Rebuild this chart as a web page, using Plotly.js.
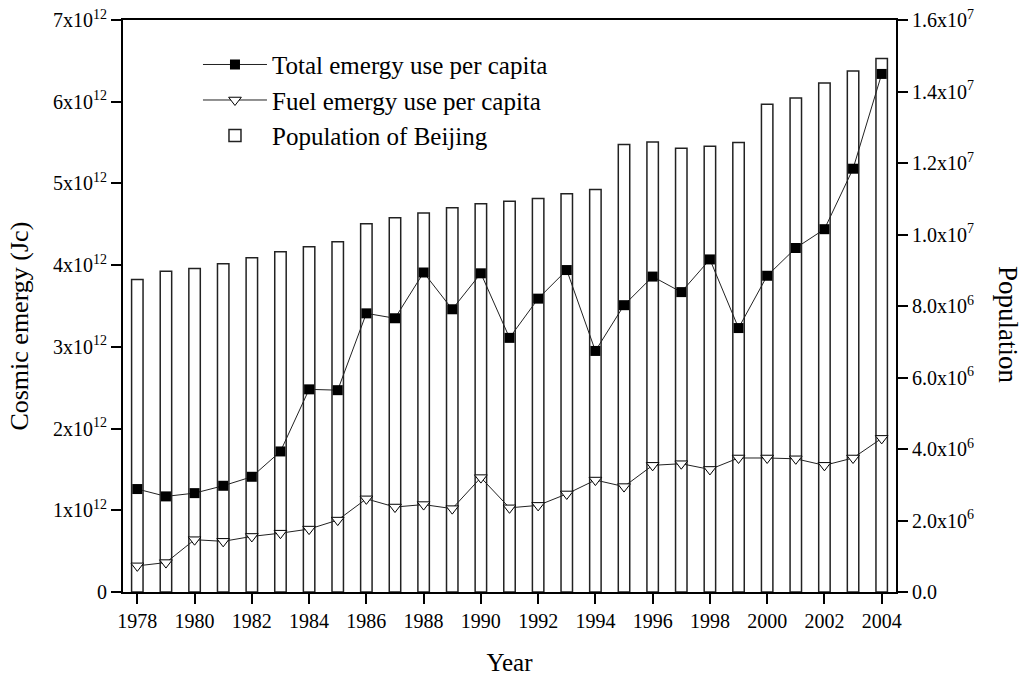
<!DOCTYPE html>
<html>
<head>
<meta charset="utf-8">
<script src="https://cdn.plot.ly/plotly-3.0.1.min.js"></script>
<style>html,body{margin:0;padding:0;background:#fff}#chart{width:1024px;height:677px}</style>
</head>
<body>
<div id="chart"></div>
<script>
const years = [1978,1979,1980,1981,1982,1983,1984,1985,1986,1987,1988,1989,1990,1991,1992,1993,1994,1995,1996,1997,1998,1999,2000,2001,2002,2003,2004];
const totalEmergy = [1.26e12,1.17e12,1.21e12,1.30e12,1.41e12,1.72e12,2.48e12,2.47e12,3.41e12,3.35e12,3.91e12,3.46e12,3.90e12,3.11e12,3.59e12,3.94e12,2.95e12,3.51e12,3.86e12,3.67e12,4.07e12,3.23e12,3.87e12,4.21e12,4.44e12,5.18e12,6.34e12];
const fuelEmergy = [0.32e12,0.36e12,0.64e12,0.62e12,0.68e12,0.72e12,0.77e12,0.88e12,1.14e12,1.04e12,1.07e12,1.02e12,1.40e12,1.03e12,1.06e12,1.20e12,1.37e12,1.29e12,1.55e12,1.57e12,1.50e12,1.64e12,1.64e12,1.63e12,1.55e12,1.64e12,1.88e12];
const population = [8.74e6,8.97e6,9.05e6,9.18e6,9.35e6,9.52e6,9.66e6,9.80e6,10.30e6,10.47e6,10.60e6,10.75e6,10.86e6,10.93e6,11.01e6,11.14e6,11.26e6,12.52e6,12.59e6,12.41e6,12.47e6,12.57e6,13.64e6,13.82e6,14.24e6,14.57e6,14.92e6];
const xTicks = [1978,1980,1982,1984,1986,1988,1990,1992,1994,1996,1998,2000,2002,2004];
const emergyTickVals = [0,1e12,2e12,3e12,4e12,5e12,6e12,7e12];
const emergyTickText = ['0','1x10<sup>12</sup>','2x10<sup>12</sup>','3x10<sup>12</sup>','4x10<sup>12</sup>','5x10<sup>12</sup>','6x10<sup>12</sup>','7x10<sup>12</sup>'];
const popTickVals = [0,2e6,4e6,6e6,8e6,1.0e7,1.2e7,1.4e7,1.6e7];
const popTickText = ['0.0','2.0x10<sup>6</sup>','4.0x10<sup>6</sup>','6.0x10<sup>6</sup>','8.0x10<sup>6</sup>','1.0x10<sup>7</sup>','1.2x10<sup>7</sup>','1.4x10<sup>7</sup>','1.6x10<sup>7</sup>'];

const FONT = '"Liberation Serif", "Times New Roman", serif';

const traces = [
  {
    type: 'bar', x: years, y: population, yaxis: 'y', name: 'Population of Beijing',
    width: 0.4, marker: {color: '#ffffff', line: {color: '#222', width: 1.5}},
    legendrank: 3
  },
  {
    type: 'scatter', mode: 'lines+markers', x: years, y: totalEmergy, yaxis: 'y2',
    name: 'Total emergy use per capita',
    line: {color: '#222', width: 1},
    marker: {symbol: 'square', size: 10, color: '#000'},
    legendrank: 1
  },
  {
    type: 'scatter', mode: 'lines+markers', x: years, y: fuelEmergy, yaxis: 'y2',
    name: 'Fuel emergy use per capita',
    line: {color: '#222', width: 1},
    marker: {symbol: 'triangle-down', size: 11, color: '#fff', line: {color: '#000', width: 1}},
    legendrank: 2
  }
];

const layout = {
  width: 1024, height: 677,
  margin: {l: 123, r: 128, t: 20, b: 85},
  paper_bgcolor: '#fff', plot_bgcolor: '#fff',
  font: {family: FONT, size: 20, color: '#000'},
  showlegend: true,
  legend: {x: 0.097, y: 0.962, xanchor: 'left', yanchor: 'top', bgcolor: 'rgba(0,0,0,0)',
           font: {family: FONT, size: 25, color: '#000'}, itemwidth: 64, tracegroupgap: 0},
  xaxis: {
    range: [1977.5, 2004.5], tickvals: xTicks, ticktext: xTicks.map(String),
    ticks: 'outside', ticklen: 10, tickwidth: 2, tickcolor: '#000',
    showline: true, linewidth: 2, linecolor: '#000', mirror: true,
    showgrid: false, zeroline: false,
    tickfont: {family: FONT, size: 20},
    title: {text: 'Year', font: {family: FONT, size: 25}, standoff: 22}
  },
  yaxis: {
    side: 'right', range: [0, 1.6e7], tickvals: popTickVals, ticktext: popTickText,
    ticks: 'outside', ticklen: 10, tickwidth: 2, tickcolor: '#000',
    showline: true, linewidth: 2, linecolor: '#000',
    showgrid: false, zeroline: false,
    tickfont: {family: FONT, size: 20}
  },
  yaxis2: {
    side: 'left', overlaying: 'y', range: [0, 7e12], tickvals: emergyTickVals, ticktext: emergyTickText,
    ticks: 'outside', ticklen: 10, tickwidth: 2, tickcolor: '#000',
    showline: true, linewidth: 2, linecolor: '#000',
    showgrid: false, zeroline: false,
    tickfont: {family: FONT, size: 20}
  },
  annotations: [
    {text: 'Cosmic emergy (Jc)', xref: 'paper', yref: 'paper', x: 0, y: 0.464, xshift: -103,
     textangle: -90, showarrow: false, font: {family: FONT, size: 26, color: '#000'},
     xanchor: 'center', yanchor: 'middle'},
    {text: 'Population', xref: 'paper', yref: 'paper', x: 1, y: 0.467, xshift: 112,
     textangle: 90, showarrow: false, font: {family: FONT, size: 27, color: '#000'},
     xanchor: 'center', yanchor: 'middle'}
  ]
};

Plotly.newPlot('chart', traces, layout, {staticPlot: true, displayModeBar: false});
</script>
</body>
</html>
